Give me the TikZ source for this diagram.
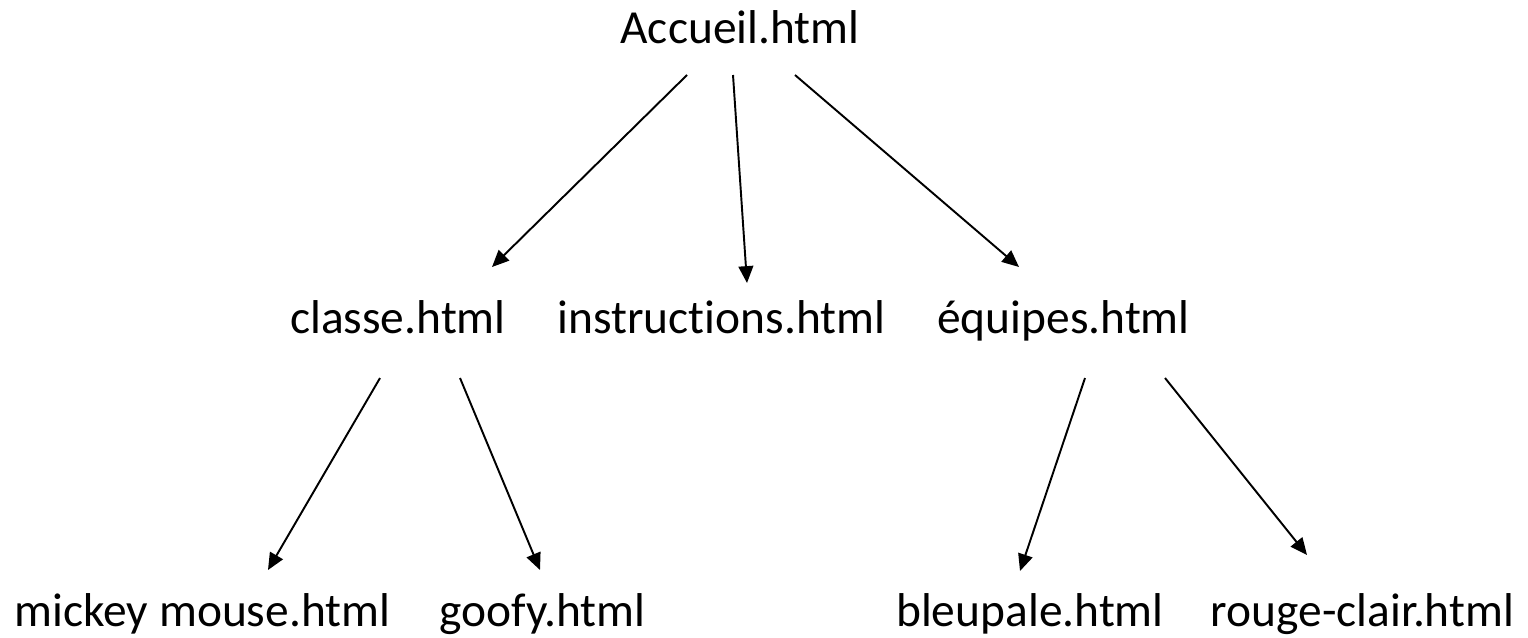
\documentclass[tikz,border=0pt]{standalone}
\usepackage{fontspec}
\setmainfont{Carlito}[Ligatures=NoCommon]
\usetikzlibrary{arrows.meta}
\begin{document}
\begin{tikzpicture}[
  page/.style={inner sep=0pt, anchor=base, font=\fontsize{13.5}{16}\selectfont},
  link/.style={draw=black, line width=0.55pt, -{Triangle[length=4.8pt,width=4.2pt]}}
]
\useasboundingbox (0,0) rectangle (15.28,6.37);
% pages
\node[page] (acc) at (7.40,5.94) {Accueil.html};
\node[page] (cls) at (3.98,3.04) {classe.html};
\node[page] (ins) at (7.215,3.04) {instructions.html};
\node[page] (equ) at (10.635,3.04) {équipes.html};
\node[page] (mic) at (2.025,0.11) {mickey mouse.html};
\node[page] (goo) at (5.425,0.11) {goofy.html};
\node[page] (ble) at (10.30,0.11) {bleupale.html};
\node[page] (rou) at (13.625,0.11) {rouge-clair.html};
% connector end points
\coordinate (a1s) at (6.87,5.62);  \coordinate (a1e) at (4.92,3.70);
\coordinate (a2s) at (7.33,5.62);  \coordinate (a2e) at (7.47,3.54);
\coordinate (a3s) at (7.95,5.62);  \coordinate (a3e) at (10.19,3.70);
\coordinate (b1s) at (3.80,2.59);  \coordinate (b1e) at (2.68,0.67);
\coordinate (b2s) at (4.60,2.59);  \coordinate (b2e) at (5.40,0.67);
\coordinate (c1s) at (10.85,2.59); \coordinate (c1e) at (10.20,0.66);
\coordinate (c2s) at (11.65,2.59); \coordinate (c2e) at (13.07,0.82);
% connectors
\draw[link] (a1s) -- (a1e);
\draw[link] (a2s) -- (a2e);
\draw[link] (a3s) -- (a3e);
\draw[link] (b1s) -- (b1e);
\draw[link] (b2s) -- (b2e);
\draw[link] (c1s) -- (c1e);
\draw[link] (c2s) -- (c2e);
\end{tikzpicture}
\end{document}
